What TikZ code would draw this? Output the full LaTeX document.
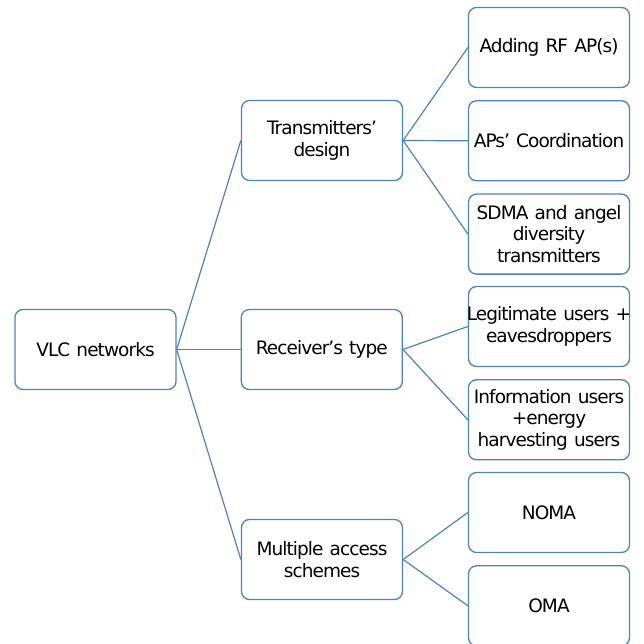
\documentclass[tikz,border=0pt]{standalone}
\usepackage{fontspec}
\setmainfont{DejaVu Sans}[LetterSpace=-5]
\usetikzlibrary{positioning}
\definecolor{officeblue}{RGB}{79,129,189}
\tikzstyle{box}=[draw=officeblue, line width=1.3pt, rounded corners=8pt, fill=white, align=center, text width=159pt, minimum width=161pt, minimum height=80pt, inner sep=1pt, font={\fontsize{18.5}{21.7}\selectfont}]
\tikzstyle{link}=[draw=officeblue, line width=1.2pt]

\begin{document}
\begin{tikzpicture}[x=1pt, y=-1pt]
        \useasboundingbox (0,0) rectangle (644,644);
        \node[box] (vlc) at (95.5,349.5) {VLC networks};
        \node[box] (tr) at (322,140.5) {Transmitters’\\design};
        \node[box] (rx) [right= 64pt of vlc] {Receiver’s type};
        \node[box] (ma) at (322,559.5) {Multiple access\\schemes};
        \node[box] (rf) at (549,47.5) {Adding RF AP(s)};
        \node[box] (co) [below= 12pt of rf] {APs’ Coordination};
        \node[box] (sd) [below= 12pt of co] {SDMA and angel\\diversity\\transmitters};
        \node[box] (le) at (549,326.5) {\makebox[\linewidth]{Legitimate users +}\\eavesdroppers};
        \node[box] (in) [below= 12pt of le] {Information users\\+energy\\harvesting users};
        \node[box] (no) at (549,512.5) {NOMA};
        \node[box] (om) [below= 12pt of no] {OMA};
        \draw (vlc.east) edge[link] (tr.west) edge[link] (rx.west) edge[link] (ma.west);
        \draw (tr.east) edge[link] (rf.west) edge[link] (co.west) edge[link] (sd.west);
        \draw (rx.east) edge[link] (le.west) edge[link] (in.west);
        \draw (ma.east) edge[link] (no.west) edge[link] (om.west);
\end{tikzpicture}
\end{document}
